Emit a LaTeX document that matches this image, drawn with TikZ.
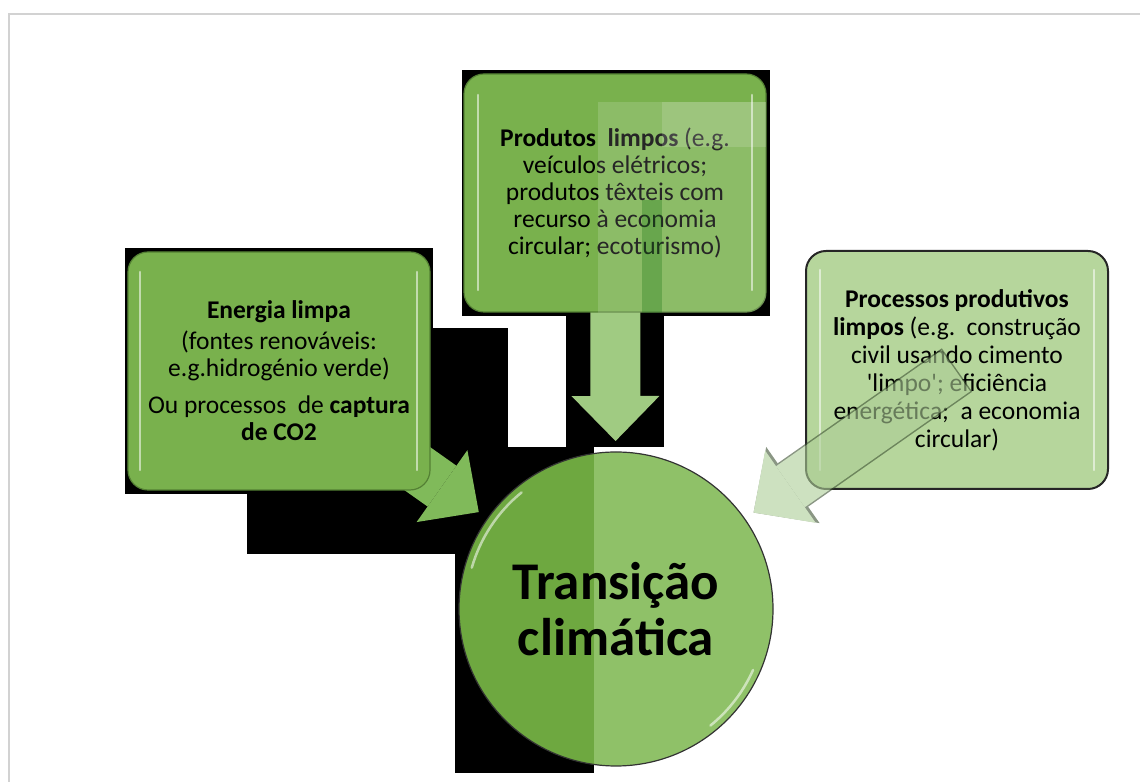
\documentclass[tikz,border=0pt]{standalone}
\usepackage{fontspec}
\setmainfont{Carlito}
\usepackage{tikz}
\usetikzlibrary{calc,arrows.meta,backgrounds}

\definecolor{boxgreen}{RGB}{121,177,77}
\definecolor{boxedge}{RGB}{84,128,52}
\definecolor{boxlight}{RGB}{182,214,156}
\definecolor{circleft}{RGB}{110,168,64}
\definecolor{circright}{RGB}{143,193,104}
\definecolor{arrowleft}{RGB}{128,186,90}
\definecolor{arrowtop}{RGB}{160,203,130}
\definecolor{arrowright}{RGB}{172,205,150}
\definecolor{arrowedge}{RGB}{60,80,50}
\definecolor{framegrey}{RGB}{210,210,210}

\newcommand{\boxfont}{\fontsize{25.5bp}{27bp}\selectfont}

\begin{document}
\begin{tikzpicture}[x=1bp,y=1bp,
  box/.style={rectangle,rounded corners=20bp,draw=boxedge,line width=1.2bp,fill=boxgreen,minimum width=302bp,minimum height=238bp,align=center,inner sep=0pt,font=\boxfont},
  gloss/.style={white,opacity=.55,line width=2.5bp,line cap=round},
  blockarrow/.style={line width=50bp,-{Triangle[width=88bp,length=45bp,line width=0pt]}}]
\useasboundingbox (0,0) rectangle (1140,782);
\draw[framegrey,line width=2bp] (9,0) -- (9,768) -- (1140,768);

\node[box] (energia) at (279,411) {\textbf{Energia limpa}\\[4bp] (fontes renováveis:\\ e.g.hidrogénio verde)\\[10bp] Ou processos\ \ de \textbf{captura}\\ \textbf{de CO2}};
\node[box] (produtos) at (615,589) {\textbf{Produtos\ \ limpos} (e.g.\\ veículos elétricos;\\ produtos têxteis com\\ recurso à economia\\ circular; ecoturismo)};
\node[box,fill=boxlight,draw=black!85,line width=2bp,font=\fontsize{25.5bp}{28bp}\selectfont] (processos) at (957,412) {\textbf{Processos produtivos}\\ \textbf{limpos} (e.g.\ \ construção\\ civil usando cimento\\ \textquotesingle limpo\textquotesingle; eficiência\\ energética;\ \ a economia\\ circular)};
\node[circle,minimum size=314bp,draw=black!80,line width=1.2bp,inner sep=0pt,align=center,font=\fontsize{53bp}{56bp}\selectfont\bfseries] (transicao) at (616,173) {Transição\\ climática};

\coordinate (ltip) at ($(transicao.center)!168bp!(energia.center)$);
\coordinate (ttip) at ($(transicao.center)!168bp!(produtos.center)$);
\coordinate (rtip) at ($(transicao.center)!168bp!(processos.center)$);

\begin{scope}[on background layer]
% black patches
\fill (462,466) rectangle (770,712);
\fill (566,335) rectangle (664,466);
\fill (125,288) rectangle (433,534);
\fill (247,228) rectangle (508,454);
\fill (455,9) rectangle (594,335);
\draw[blockarrow,arrowleft] (energia.center) -- (ltip);
\draw[blockarrow,arrowtop] (produtos.center) -- (ttip);
\begin{scope}
\clip (transicao.center) circle[radius=157bp];
\fill[circright] (455,0) rectangle (780,782);
\fill[circleft] (455,0) rectangle (594,782);
\end{scope}
\end{scope}

\begin{scope}
\clip[rounded corners=20bp] (produtos.south west) rectangle (produtos.north east);
\fill[white,opacity=.15] (598,469) rectangle (766,680);
\fill[white,opacity=.15] (662,635) rectangle (766,680);
\fill[black!60!green,opacity=.25] (642,469) rectangle (662,582);
\end{scope}

\draw[gloss] (140,312) -- (140,510);
\draw[gloss] (417,312) -- (417,510);
\draw[gloss] (478,492) -- (478,687);
\draw[gloss] (752,492) -- (752,687);
\draw[gloss] (820,312) -- (820,512);
\draw[gloss] (1094,312) -- (1094,512);
\draw[gloss] ($(transicao.center)+(164:150bp)$) arc[start angle=164,end angle=129,radius=150bp];
\draw[gloss] ($(transicao.center)+(-51:150bp)$) arc[start angle=-51,end angle=-24,radius=150bp];

\begin{scope}[transparency group,opacity=.6]
\draw[line width=53bp,-{Triangle[width=93bp,length=48bp,line width=0pt]},arrowedge] (processos.center) -- (rtip);
\draw[blockarrow,arrowright,shorten <=1.5bp] (processos.center) -- (rtip);
\end{scope}
\end{tikzpicture}
\end{document}
